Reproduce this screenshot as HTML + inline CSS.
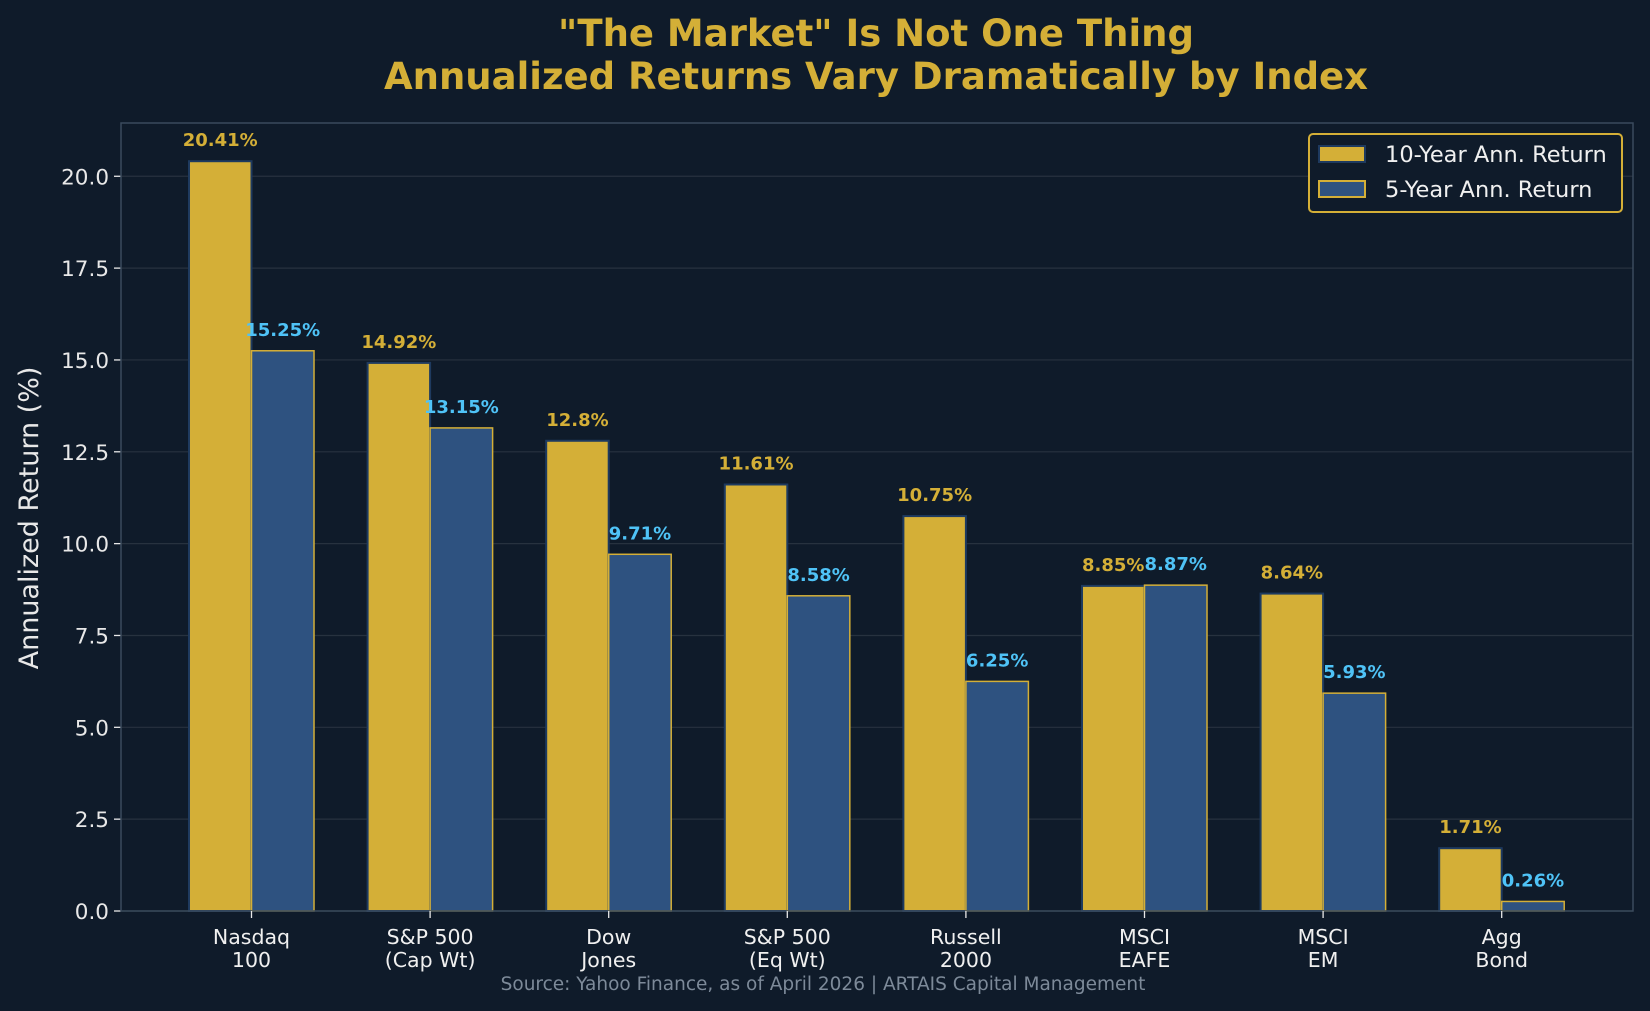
<!DOCTYPE html>
<html><head><meta charset="utf-8"><style>
html,body{margin:0;padding:0;background:#0f1b2a;}
svg{display:block;font-family:"DejaVu Sans","Liberation Sans",sans-serif;}
</style></head><body>
<svg id="chart" width="1650" height="1011" viewBox="0 0 1650 1011" xmlns="http://www.w3.org/2000/svg">
<rect x="0" y="0" width="1650" height="1011" fill="#0f1b2a"/>
<text x="876" y="46" text-anchor="middle" font-size="37" font-weight="bold" fill="#d4af37">"The Market" Is Not One Thing</text>
<text x="876" y="89" text-anchor="middle" font-size="37" font-weight="bold" fill="#d4af37">Annualized Returns Vary Dramatically by Index</text>
<g id="grid"></g>
<g id="bars"></g>
<g id="axes"></g>
<text transform="translate(38,518) rotate(-90)" text-anchor="middle" font-size="27" fill="#e8e8e8">Annualized Return (%)</text>
<g>
<rect x="1309" y="134" width="313" height="78" rx="4" fill="#0f1b2a" stroke="#d4af37" stroke-width="2"/>
<rect x="1319" y="146" width="46" height="16" fill="#d4af37" stroke="#1e3a5f" stroke-width="2"/>
<text x="1385" y="162" font-size="22.5" fill="#f0f0f0">10-Year Ann. Return</text>
<rect x="1319" y="181" width="46" height="16" fill="#2e5280" stroke="#d4af37" stroke-width="2"/>
<text x="1385" y="197" font-size="22.5" fill="#f0f0f0">5-Year Ann. Return</text>
</g>
<text x="823" y="990" text-anchor="middle" font-size="18.5" fill="#7d8a99">Source: Yahoo Finance, as of April 2026 | ARTAIS Capital Management</text>
</svg>
<script>
const categories = [["Nasdaq","100"],["S&P 500","(Cap Wt)"],["Dow","Jones"],["S&P 500","(Eq Wt)"],["Russell","2000"],["MSCI","EAFE"],["MSCI","EM"],["Agg","Bond"]];
const tenYear = [20.41,14.92,12.8,11.61,10.75,8.85,8.64,1.71];
const fiveYear = [15.25,13.15,9.71,8.58,6.25,8.87,5.93,0.26];
const yTicks = [0,2.5,5,7.5,10,12.5,15,17.5,20];
const tenLabels = ["20.41%","14.92%","12.8%","11.61%","10.75%","8.85%","8.64%","1.71%"];
const fiveLabels = ["15.25%","13.15%","9.71%","8.58%","6.25%","8.87%","5.93%","0.26%"];

const NS="http://www.w3.org/2000/svg";
const L=121,R=1633,T=123,B=911,yMax=21.45;
const y=v=>B-(v/yMax)*(B-T);
const step=178.6, x0=251.5;
const xc=i=>x0+i*step;
const bw=step*0.35;
function mk(tag,attrs,parent,text){const e=document.createElementNS(NS,tag);for(const k in attrs)e.setAttribute(k,attrs[k]);if(text!==undefined)e.textContent=text;parent.appendChild(e);return e;}
const grid=document.getElementById('grid'),bars=document.getElementById('bars'),axes=document.getElementById('axes');
yTicks.forEach(t=>{
  const g=mk('line',{x1:L,x2:R,y1:y(t),y2:y(t),stroke:'rgba(255,255,255,0.1)','stroke-width':1.2},grid);
  
  
  const tk=mk('line',{x1:L-7,x2:L,y1:y(t),y2:y(t),stroke:'#e8e8e8','stroke-width':1.3},axes);
  
  
  const lb=mk('text',{x:L-12,y:y(t)+8,'text-anchor':'end','font-size':21.5,fill:'#e8e8e8'},axes,t.toFixed(1));
  
  
});
const frame=mk('rect',{x:L,y:T,width:R-L,height:B-T,fill:'none',stroke:'#3a4a5c','stroke-width':1.5},axes);


categories.forEach((c,i)=>{
  const cx=xc(i);
  const b1=mk('rect',{x:cx-bw,y:y(tenYear[i]),width:bw,height:B-y(tenYear[i]),fill:'#d4af37',stroke:'#1e3a5f','stroke-width':2},bars);
  
  
  const b2=mk('rect',{x:cx,y:y(fiveYear[i]),width:bw,height:B-y(fiveYear[i]),fill:'#2e5280',stroke:'#d4af37','stroke-width':1.5},bars);
  
  
  const l1=mk('text',{x:cx-bw/2,y:y(tenYear[i])-15,'text-anchor':'middle','font-size':18,'font-weight':'bold',fill:'#d4af37'},bars,tenLabels[i]);
  
  
  const l2=mk('text',{x:cx+bw/2,y:y(fiveYear[i])-15,'text-anchor':'middle','font-size':18,'font-weight':'bold',fill:'#4fc3f7'},bars,fiveLabels[i]);
  
  
  const tk=mk('line',{x1:cx,x2:cx,y1:B,y2:B+7,stroke:'#e8e8e8','stroke-width':1.3},axes);
  
  
  const t1=mk('text',{x:cx,y:944,'text-anchor':'middle','font-size':20.5,fill:'#f0f0f0'},axes,c[0]);
  
  
  const t2=mk('text',{x:cx,y:967,'text-anchor':'middle','font-size':20.5,fill:'#f0f0f0'},axes,c[1]);
  
  
});
</script>
</body></html>
